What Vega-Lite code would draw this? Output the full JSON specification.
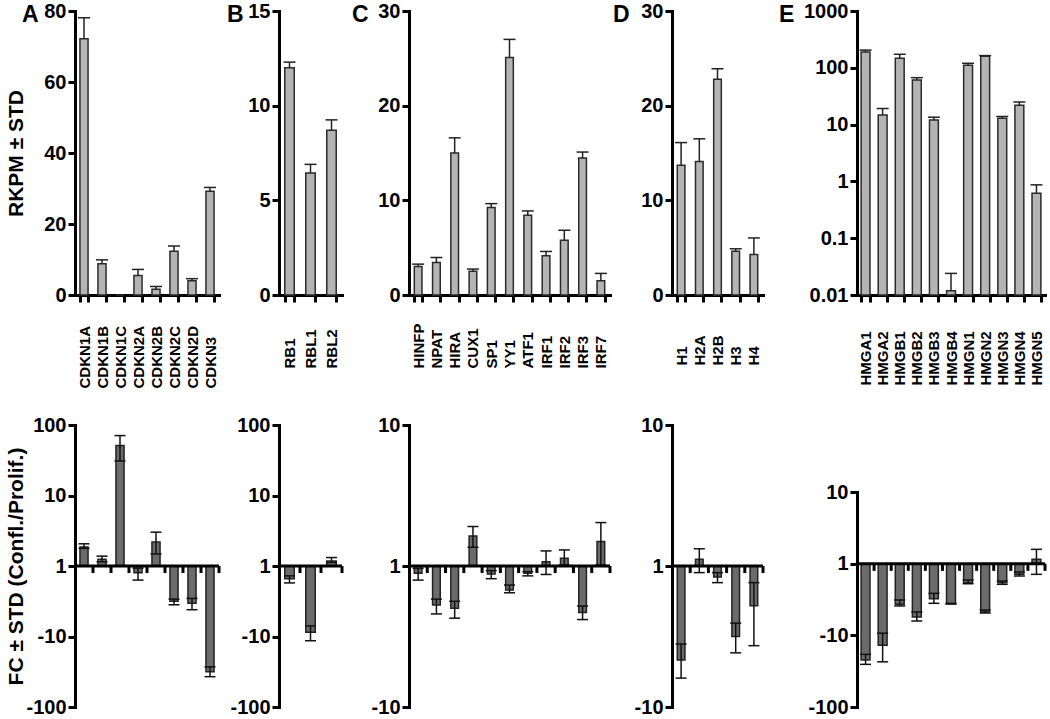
{
  "$schema": "https://vega.github.io/schema/vega-lite/v6.json",
  "padding": {"left": 4, "top": 1, "right": 0, "bottom": 0},
  "background": "white",
  "datasets": {
    "Atop": [
      {"gene": "CDKN1A", "rkpm": 72.2, "hi": 78.1},
      {"gene": "CDKN1B", "rkpm": 8.8, "hi": 9.9},
      {"gene": "CDKN1C", "rkpm": 0, "hi": null},
      {"gene": "CDKN2A", "rkpm": 5.5, "hi": 7.2},
      {"gene": "CDKN2B", "rkpm": 1.6, "hi": 2.4},
      {"gene": "CDKN2C", "rkpm": 12.3, "hi": 13.8},
      {"gene": "CDKN2D", "rkpm": 4.0, "hi": 4.6},
      {"gene": "CDKN3", "rkpm": 29.2, "hi": 30.3}
    ],
    "Btop": [
      {"gene": "RB1", "rkpm": 12.0, "hi": 12.3},
      {"gene": "RBL1", "rkpm": 6.45, "hi": 6.9},
      {"gene": "RBL2", "rkpm": 8.7, "hi": 9.25}
    ],
    "Ctop": [
      {"gene": "HINFP", "rkpm": 3.0, "hi": 3.26},
      {"gene": "NPAT", "rkpm": 3.44, "hi": 3.96},
      {"gene": "HIRA", "rkpm": 15.0, "hi": 16.6},
      {"gene": "CUX1", "rkpm": 2.5, "hi": 2.74},
      {"gene": "SP1", "rkpm": 9.23, "hi": 9.65},
      {"gene": "YY1", "rkpm": 25.1, "hi": 27.0},
      {"gene": "ATF1", "rkpm": 8.42, "hi": 8.88},
      {"gene": "IRF1", "rkpm": 4.14, "hi": 4.6},
      {"gene": "IRF2", "rkpm": 5.79, "hi": 6.84},
      {"gene": "IRF3", "rkpm": 14.46, "hi": 15.1},
      {"gene": "IRF7", "rkpm": 1.5, "hi": 2.28}
    ],
    "Dtop": [
      {"gene": "H1", "rkpm": 13.7, "hi": 16.1},
      {"gene": "H2A", "rkpm": 14.1, "hi": 16.5},
      {"gene": "H2B", "rkpm": 22.8, "hi": 23.9},
      {"gene": "H3", "rkpm": 4.63, "hi": 4.88},
      {"gene": "H4", "rkpm": 4.28, "hi": 6.03}
    ],
    "Etop": [
      {"gene": "HMGA1", "rkpm": 190, "hi": 205},
      {"gene": "HMGA2", "rkpm": 14.8, "hi": 19.2},
      {"gene": "HMGB1", "rkpm": 147, "hi": 173},
      {"gene": "HMGB2", "rkpm": 61, "hi": 67},
      {"gene": "HMGB3", "rkpm": 12.1, "hi": 13.5},
      {"gene": "HMGB4", "rkpm": 0.0119, "hi": 0.024},
      {"gene": "HMGN1", "rkpm": 111, "hi": 120},
      {"gene": "HMGN2", "rkpm": 160, "hi": 164},
      {"gene": "HMGN3", "rkpm": 13, "hi": 13.9},
      {"gene": "HMGN4", "rkpm": 21.9, "hi": 25},
      {"gene": "HMGN5", "rkpm": 0.62, "hi": 0.87}
    ],
    "Abot": [
      {"gene": "CDKN1A", "log10FC": 0.27, "log10FC_lo": 0.25, "log10FC_hi": 0.315},
      {"gene": "CDKN1B", "log10FC": 0.094, "log10FC_lo": 0.06, "log10FC_hi": 0.14},
      {"gene": "CDKN1C", "log10FC": 1.71, "log10FC_lo": 1.49, "log10FC_hi": 1.85},
      {"gene": "CDKN2A", "log10FC": -0.094, "log10FC_lo": -0.2, "log10FC_hi": -0.03},
      {"gene": "CDKN2B", "log10FC": 0.34, "log10FC_lo": 0.17, "log10FC_hi": 0.48},
      {"gene": "CDKN2C", "log10FC": -0.5, "log10FC_lo": -0.55, "log10FC_hi": -0.47},
      {"gene": "CDKN2D", "log10FC": -0.53, "log10FC_lo": -0.62, "log10FC_hi": -0.46},
      {"gene": "CDKN3", "log10FC": -1.5, "log10FC_lo": -1.57, "log10FC_hi": -1.43}
    ],
    "Bbot": [
      {"gene": "RB1", "log10FC": -0.18, "log10FC_lo": -0.24, "log10FC_hi": -0.14},
      {"gene": "RBL1", "log10FC": -0.94, "log10FC_lo": -1.06, "log10FC_hi": -0.85},
      {"gene": "RBL2", "log10FC": 0.07, "log10FC_lo": 0.05, "log10FC_hi": 0.12}
    ],
    "Cbot": [
      {"gene": "HINFP", "log10FC": -0.052, "log10FC_lo": -0.1, "log10FC_hi": -0.017},
      {"gene": "NPAT", "log10FC": -0.277, "log10FC_lo": -0.34, "log10FC_hi": -0.235},
      {"gene": "HIRA", "log10FC": -0.3, "log10FC_lo": -0.37, "log10FC_hi": -0.25},
      {"gene": "CUX1", "log10FC": 0.213, "log10FC_lo": 0.133, "log10FC_hi": 0.28},
      {"gene": "SP1", "log10FC": -0.057, "log10FC_lo": -0.09, "log10FC_hi": -0.033},
      {"gene": "YY1", "log10FC": -0.17, "log10FC_lo": -0.19, "log10FC_hi": -0.135},
      {"gene": "ATF1", "log10FC": -0.052, "log10FC_lo": -0.07, "log10FC_hi": -0.04},
      {"gene": "IRF1", "log10FC": 0.03, "log10FC_lo": -0.06, "log10FC_hi": 0.107},
      {"gene": "IRF2", "log10FC": 0.055, "log10FC_lo": 0.007, "log10FC_hi": 0.114},
      {"gene": "IRF3", "log10FC": -0.33, "log10FC_lo": -0.38, "log10FC_hi": -0.284},
      {"gene": "IRF7", "log10FC": 0.173, "log10FC_lo": 0.007, "log10FC_hi": 0.308}
    ],
    "Dbot": [
      {"gene": "H1", "log10FC": -0.666, "log10FC_lo": -0.795, "log10FC_hi": -0.553},
      {"gene": "H2A", "log10FC": 0.047, "log10FC_lo": -0.047, "log10FC_hi": 0.122},
      {"gene": "H2B", "log10FC": -0.078, "log10FC_lo": -0.118, "log10FC_hi": -0.047},
      {"gene": "H3", "log10FC": -0.5, "log10FC_lo": -0.616, "log10FC_hi": -0.405},
      {"gene": "H4", "log10FC": -0.282, "log10FC_lo": -0.565, "log10FC_hi": -0.118}
    ],
    "Ebot": [
      {"gene": "HMGA1", "log10FC": -1.344, "log10FC_lo": -1.405, "log10FC_hi": -1.265},
      {"gene": "HMGA2", "log10FC": -1.14, "log10FC_lo": -1.37, "log10FC_hi": -0.97},
      {"gene": "HMGB1", "log10FC": -0.567, "log10FC_lo": -0.59, "log10FC_hi": -0.507},
      {"gene": "HMGB2", "log10FC": -0.744, "log10FC_lo": -0.8, "log10FC_hi": -0.674},
      {"gene": "HMGB3", "log10FC": -0.488, "log10FC_lo": -0.553, "log10FC_hi": -0.414},
      {"gene": "HMGB4", "log10FC": -0.558, "log10FC_lo": -0.562, "log10FC_hi": -0.554},
      {"gene": "HMGN1", "log10FC": -0.265, "log10FC_lo": -0.28, "log10FC_hi": -0.228},
      {"gene": "HMGN2", "log10FC": -0.674, "log10FC_lo": -0.688, "log10FC_hi": -0.647},
      {"gene": "HMGN3", "log10FC": -0.265, "log10FC_lo": -0.288, "log10FC_hi": -0.242},
      {"gene": "HMGN4", "log10FC": -0.149, "log10FC_lo": -0.172, "log10FC_hi": -0.116},
      {"gene": "HMGN5", "log10FC": 0.06, "log10FC_lo": -0.149, "log10FC_hi": 0.2}
    ]
  },
  "columns": 5,
  "align": "each",
  "bounds": "flush",
  "spacing": {"row": 130, "column": 60},
  "concat": [
    {
      "width": 144, "height": 284,
      "title": {"text": "A", "dx": -53},
      "data": {"name": "Atop"},
      "encoding": {"x": {"field": "gene", "type": "nominal", "sort": null, "scale": {"paddingInner": 0.55, "paddingOuter": 0.275}, "axis": {"title": null, "labelAngle": 270, "labelAlign": "left", "labelBaseline": "middle", "labelPadding": 86, "labelFontSize": 15, "tickBand": "extent"}}},
      "layer": [
        {"mark": {"type": "bar", "fill": "#b4b4b4", "stroke": "#2b2b2b", "strokeWidth": 1.5}, "encoding": {"y": {"field": "rkpm", "type": "quantitative", "scale": {"domain": [0, 80], "nice": false}, "axis": {"values": [0, 20, 40, 60, 80], "title": "RKPM ± STD", "titleX": -49}}}},
        {"mark": {"type": "rule", "strokeWidth": 1.5, "color": "#222"}, "encoding": {"y": {"field": "rkpm", "type": "quantitative"}, "y2": {"field": "hi"}}},
        {"mark": {"type": "tick", "thickness": 1.5, "size": 12, "orient": "horizontal", "color": "#222", "opacity": 1}, "encoding": {"y": {"field": "hi", "type": "quantitative"}}}
      ]
    },
    {
      "width": 70, "height": 284,
      "title": {"text": "B", "dx": -52},
      "data": {"name": "Btop"},
      "encoding": {"x": {"field": "gene", "type": "nominal", "sort": null, "scale": {"paddingInner": 0.55, "paddingOuter": 0.275, "range": [0, 63]}, "axis": {"title": null, "labelAngle": 270, "labelAlign": "left", "labelBaseline": "middle", "labelPadding": 66, "labelFontSize": 15, "tickBand": "extent"}}},
      "layer": [
        {"mark": {"type": "bar", "fill": "#b4b4b4", "stroke": "#2b2b2b", "strokeWidth": 1.5}, "encoding": {"y": {"field": "rkpm", "type": "quantitative", "scale": {"domain": [0, 15], "nice": false}, "axis": {"values": [0, 5, 10, 15], "title": null}}}},
        {"mark": {"type": "rule", "strokeWidth": 1.5, "color": "#222"}, "encoding": {"y": {"field": "rkpm", "type": "quantitative"}, "y2": {"field": "hi"}}},
        {"mark": {"type": "tick", "thickness": 1.5, "size": 12, "orient": "horizontal", "color": "#222", "opacity": 1}, "encoding": {"y": {"field": "hi", "type": "quantitative"}}}
      ]
    },
    {
      "width": 203, "height": 284,
      "title": {"text": "C", "dx": -57},
      "data": {"name": "Ctop"},
      "encoding": {"x": {"field": "gene", "type": "nominal", "sort": null, "scale": {"paddingInner": 0.58, "paddingOuter": 0.29, "range": [0, 201]}, "axis": {"title": null, "labelAngle": 270, "labelAlign": "left", "labelBaseline": "middle", "labelPadding": 66, "labelFontSize": 15, "tickBand": "extent"}}},
      "layer": [
        {"mark": {"type": "bar", "fill": "#b4b4b4", "stroke": "#2b2b2b", "strokeWidth": 1.5}, "encoding": {"y": {"field": "rkpm", "type": "quantitative", "scale": {"domain": [0, 30], "nice": false}, "axis": {"values": [0, 10, 20, 30], "title": null}}}},
        {"mark": {"type": "rule", "strokeWidth": 1.5, "color": "#222"}, "encoding": {"y": {"field": "rkpm", "type": "quantitative"}, "y2": {"field": "hi"}}},
        {"mark": {"type": "tick", "thickness": 1.5, "size": 12, "orient": "horizontal", "color": "#222", "opacity": 1}, "encoding": {"y": {"field": "hi", "type": "quantitative"}}}
      ]
    },
    {
      "width": 125, "height": 284,
      "title": {"text": "D", "dx": -59},
      "data": {"name": "Dtop"},
      "encoding": {"x": {"field": "gene", "type": "nominal", "sort": null, "scale": {"paddingInner": 0.58, "paddingOuter": 0.29, "range": [0, 91]}, "axis": {"title": null, "labelAngle": 270, "labelAlign": "left", "labelBaseline": "middle", "labelPadding": 63, "labelFontSize": 15, "tickBand": "extent"}}},
      "layer": [
        {"mark": {"type": "bar", "fill": "#b4b4b4", "stroke": "#2b2b2b", "strokeWidth": 1.5}, "encoding": {"y": {"field": "rkpm", "type": "quantitative", "scale": {"domain": [0, 30], "nice": false}, "axis": {"values": [0, 10, 20, 30], "title": null}}}},
        {"mark": {"type": "rule", "strokeWidth": 1.5, "color": "#222"}, "encoding": {"y": {"field": "rkpm", "type": "quantitative"}, "y2": {"field": "hi"}}},
        {"mark": {"type": "tick", "thickness": 1.5, "size": 12, "orient": "horizontal", "color": "#222", "opacity": 1}, "encoding": {"y": {"field": "hi", "type": "quantitative"}}}
      ]
    },
    {
      "width": 188, "height": 284,
      "title": {"text": "E", "dx": -78},
      "data": {"name": "Etop"},
      "encoding": {"x": {"field": "gene", "type": "nominal", "sort": null, "scale": {"paddingInner": 0.48, "paddingOuter": 0.24}, "axis": {"title": null, "labelAngle": 270, "labelAlign": "left", "labelBaseline": "middle", "labelPadding": 83, "labelFontSize": 15, "tickBand": "extent"}}},
      "layer": [
        {"mark": {"type": "bar", "fill": "#b4b4b4", "stroke": "#2b2b2b", "strokeWidth": 1.5}, "encoding": {"y": {"field": "rkpm", "type": "quantitative", "scale": {"type": "log", "domain": [0.01, 1000], "nice": false}, "axis": {"values": [0.01, 0.1, 1, 10, 100, 1000], "labelExpr": "datum.value >= 1 ? format(datum.value, 'd') : format(datum.value, '.2~f')", "title": null}}, "y2": {"datum": 0.01}}},
        {"mark": {"type": "rule", "strokeWidth": 1.5, "color": "#222"}, "encoding": {"y": {"field": "rkpm", "type": "quantitative"}, "y2": {"field": "hi"}}},
        {"mark": {"type": "tick", "thickness": 1.5, "size": 12, "orient": "horizontal", "color": "#222", "opacity": 1}, "encoding": {"y": {"field": "hi", "type": "quantitative"}}}
      ]
    },
    {
      "width": 144, "height": 282,
      "data": {"name": "Abot"},
      "layer": [
        {"mark": {"type": "bar", "fill": "#6b6b6b", "stroke": "#222", "strokeWidth": 1.5}, "encoding": {"x": {"field": "gene", "type": "nominal", "sort": null, "scale": {"paddingInner": 0.55, "paddingOuter": 0.275}, "axis": null}, "y": {"field": "log10FC", "type": "quantitative", "scale": {"domain": [-2, 2], "nice": false}, "axis": {"values": [-2, -1, 0, 1, 2], "labelExpr": "datum.value == 0 ? '1' : (datum.value > 0 ? '' : '-') + format(pow(10, abs(datum.value)), 'd')", "title": "FC ± STD (Confl./Prolif.)", "titleX": -49}}}},
        {"mark": {"type": "rule", "strokeWidth": 1.5, "color": "#111"}, "encoding": {"x": {"field": "gene", "type": "nominal", "sort": null}, "y": {"field": "log10FC_lo", "type": "quantitative"}, "y2": {"field": "log10FC_hi"}}},
        {"mark": {"type": "tick", "thickness": 1.5, "size": 11, "orient": "horizontal", "color": "#111", "opacity": 1}, "encoding": {"x": {"field": "gene", "type": "nominal", "sort": null}, "y": {"field": "log10FC_lo", "type": "quantitative"}}},
        {"mark": {"type": "tick", "thickness": 1.5, "size": 11, "orient": "horizontal", "color": "#111", "opacity": 1}, "encoding": {"x": {"field": "gene", "type": "nominal", "sort": null}, "y": {"field": "log10FC_hi", "type": "quantitative"}}},
        {"transform": [{"aggregate": [{"op": "count", "as": "n"}]}], "mark": {"type": "rule", "strokeWidth": 3, "color": "black"}, "encoding": {"y": {"datum": 0}}},
        {"mark": {"type": "rule", "strokeWidth": 3, "color": "black"}, "encoding": {"x": {"field": "gene", "type": "nominal", "sort": null, "bandPosition": 1.6111}, "y": {"datum": 0}, "y2": {"datum": -0.1}}}
      ]
    },
    {
      "width": 63, "height": 282,
      "data": {"name": "Bbot"},
      "layer": [
        {"mark": {"type": "bar", "fill": "#6b6b6b", "stroke": "#222", "strokeWidth": 1.5}, "encoding": {"x": {"field": "gene", "type": "nominal", "sort": null, "scale": {"paddingInner": 0.55, "paddingOuter": 0.275}, "axis": null}, "y": {"field": "log10FC", "type": "quantitative", "scale": {"domain": [-2, 2], "nice": false}, "axis": {"values": [-2, -1, 0, 1, 2], "labelExpr": "datum.value == 0 ? '1' : (datum.value > 0 ? '' : '-') + format(pow(10, abs(datum.value)), 'd')", "title": null}}}},
        {"mark": {"type": "rule", "strokeWidth": 1.5, "color": "#111"}, "encoding": {"x": {"field": "gene", "type": "nominal", "sort": null}, "y": {"field": "log10FC_lo", "type": "quantitative"}, "y2": {"field": "log10FC_hi"}}},
        {"mark": {"type": "tick", "thickness": 1.5, "size": 11, "orient": "horizontal", "color": "#111", "opacity": 1}, "encoding": {"x": {"field": "gene", "type": "nominal", "sort": null}, "y": {"field": "log10FC_lo", "type": "quantitative"}}},
        {"mark": {"type": "tick", "thickness": 1.5, "size": 11, "orient": "horizontal", "color": "#111", "opacity": 1}, "encoding": {"x": {"field": "gene", "type": "nominal", "sort": null}, "y": {"field": "log10FC_hi", "type": "quantitative"}}},
        {"transform": [{"aggregate": [{"op": "count", "as": "n"}]}], "mark": {"type": "rule", "strokeWidth": 3, "color": "black"}, "encoding": {"y": {"datum": 0}}},
        {"mark": {"type": "rule", "strokeWidth": 3, "color": "black"}, "encoding": {"x": {"field": "gene", "type": "nominal", "sort": null, "bandPosition": 1.6111}, "y": {"datum": 0}, "y2": {"datum": -0.1}}}
      ]
    },
    {
      "width": 201, "height": 282,
      "data": {"name": "Cbot"},
      "layer": [
        {"mark": {"type": "bar", "fill": "#6b6b6b", "stroke": "#222", "strokeWidth": 1.5}, "encoding": {"x": {"field": "gene", "type": "nominal", "sort": null, "scale": {"paddingInner": 0.58, "paddingOuter": 0.29}, "axis": null}, "y": {"field": "log10FC", "type": "quantitative", "scale": {"domain": [-1, 1], "nice": false}, "axis": {"values": [-1, 0, 1], "labelExpr": "datum.value == 0 ? '1' : (datum.value > 0 ? '' : '-') + format(pow(10, abs(datum.value)), 'd')", "title": null}}}},
        {"mark": {"type": "rule", "strokeWidth": 1.5, "color": "#111"}, "encoding": {"x": {"field": "gene", "type": "nominal", "sort": null}, "y": {"field": "log10FC_lo", "type": "quantitative"}, "y2": {"field": "log10FC_hi"}}},
        {"mark": {"type": "tick", "thickness": 1.5, "size": 11, "orient": "horizontal", "color": "#111", "opacity": 1}, "encoding": {"x": {"field": "gene", "type": "nominal", "sort": null}, "y": {"field": "log10FC_lo", "type": "quantitative"}}},
        {"mark": {"type": "tick", "thickness": 1.5, "size": 11, "orient": "horizontal", "color": "#111", "opacity": 1}, "encoding": {"x": {"field": "gene", "type": "nominal", "sort": null}, "y": {"field": "log10FC_hi", "type": "quantitative"}}},
        {"transform": [{"aggregate": [{"op": "count", "as": "n"}]}], "mark": {"type": "rule", "strokeWidth": 3, "color": "black"}, "encoding": {"y": {"datum": 0}}},
        {"mark": {"type": "rule", "strokeWidth": 3, "color": "black"}, "encoding": {"x": {"field": "gene", "type": "nominal", "sort": null, "bandPosition": 1.6905}, "y": {"datum": 0}, "y2": {"datum": -0.05}}}
      ]
    },
    {
      "width": 91, "height": 282,
      "data": {"name": "Dbot"},
      "layer": [
        {"mark": {"type": "bar", "fill": "#6b6b6b", "stroke": "#222", "strokeWidth": 1.5}, "encoding": {"x": {"field": "gene", "type": "nominal", "sort": null, "scale": {"paddingInner": 0.58, "paddingOuter": 0.29}, "axis": null}, "y": {"field": "log10FC", "type": "quantitative", "scale": {"domain": [-1, 1], "nice": false}, "axis": {"values": [-1, 0, 1], "labelExpr": "datum.value == 0 ? '1' : (datum.value > 0 ? '' : '-') + format(pow(10, abs(datum.value)), 'd')", "title": null}}}},
        {"mark": {"type": "rule", "strokeWidth": 1.5, "color": "#111"}, "encoding": {"x": {"field": "gene", "type": "nominal", "sort": null}, "y": {"field": "log10FC_lo", "type": "quantitative"}, "y2": {"field": "log10FC_hi"}}},
        {"mark": {"type": "tick", "thickness": 1.5, "size": 11, "orient": "horizontal", "color": "#111", "opacity": 1}, "encoding": {"x": {"field": "gene", "type": "nominal", "sort": null}, "y": {"field": "log10FC_lo", "type": "quantitative"}}},
        {"mark": {"type": "tick", "thickness": 1.5, "size": 11, "orient": "horizontal", "color": "#111", "opacity": 1}, "encoding": {"x": {"field": "gene", "type": "nominal", "sort": null}, "y": {"field": "log10FC_hi", "type": "quantitative"}}},
        {"transform": [{"aggregate": [{"op": "count", "as": "n"}]}], "mark": {"type": "rule", "strokeWidth": 3, "color": "black"}, "encoding": {"y": {"datum": 0}}},
        {"mark": {"type": "rule", "strokeWidth": 3, "color": "black"}, "encoding": {"x": {"field": "gene", "type": "nominal", "sort": null, "bandPosition": 1.6905}, "y": {"datum": 0}, "y2": {"datum": -0.05}}}
      ]
    },
    {
      "width": 188, "height": 282,
      "data": {"name": "Ebot"},
      "layer": [
        {"mark": {"type": "bar", "fill": "#6b6b6b", "stroke": "#222", "strokeWidth": 1.5}, "encoding": {"x": {"field": "gene", "type": "nominal", "sort": null, "scale": {"paddingInner": 0.48, "paddingOuter": 0.24}, "axis": null}, "y": {"field": "log10FC", "type": "quantitative", "scale": {"domain": [-2, 1], "nice": false, "range": [282, 67]}, "axis": {"values": [-2, -1, 0, 1], "labelExpr": "datum.value == 0 ? '1' : (datum.value > 0 ? '' : '-') + format(pow(10, abs(datum.value)), 'd')", "title": null}}}},
        {"mark": {"type": "rule", "strokeWidth": 1.5, "color": "#111"}, "encoding": {"x": {"field": "gene", "type": "nominal", "sort": null}, "y": {"field": "log10FC_lo", "type": "quantitative"}, "y2": {"field": "log10FC_hi"}}},
        {"mark": {"type": "tick", "thickness": 1.5, "size": 11, "orient": "horizontal", "color": "#111", "opacity": 1}, "encoding": {"x": {"field": "gene", "type": "nominal", "sort": null}, "y": {"field": "log10FC_lo", "type": "quantitative"}}},
        {"mark": {"type": "tick", "thickness": 1.5, "size": 11, "orient": "horizontal", "color": "#111", "opacity": 1}, "encoding": {"x": {"field": "gene", "type": "nominal", "sort": null}, "y": {"field": "log10FC_hi", "type": "quantitative"}}},
        {"transform": [{"aggregate": [{"op": "count", "as": "n"}]}], "mark": {"type": "rule", "strokeWidth": 3, "color": "black"}, "encoding": {"y": {"datum": 0}}},
        {"mark": {"type": "rule", "strokeWidth": 3, "color": "black"}, "encoding": {"x": {"field": "gene", "type": "nominal", "sort": null, "bandPosition": 1.4615}, "y": {"datum": 0}, "y2": {"datum": -0.1}}}
      ]
    }
  ],
  "config": {
    "view": {"stroke": null},
    "font": "Liberation Sans",
    "axis": {"domainColor": "black", "domainWidth": 3, "domainCap": "square", "tickColor": "black", "tickWidth": 3, "tickSize": 7, "labelFont": "Liberation Sans", "labelFontWeight": "bold", "labelFontSize": 20, "labelColor": "black", "labelPadding": 2, "grid": false, "titleFont": "Liberation Sans", "titleFontWeight": "bold", "titleFontSize": 21, "titleColor": "black", "labelFlush": false, "labelOverlap": false},
    "title": {"fontSize": 23, "fontWeight": "bold", "anchor": "start", "frame": "group", "color": "black", "offset": -26, "font": "Liberation Sans"}
  }
}
